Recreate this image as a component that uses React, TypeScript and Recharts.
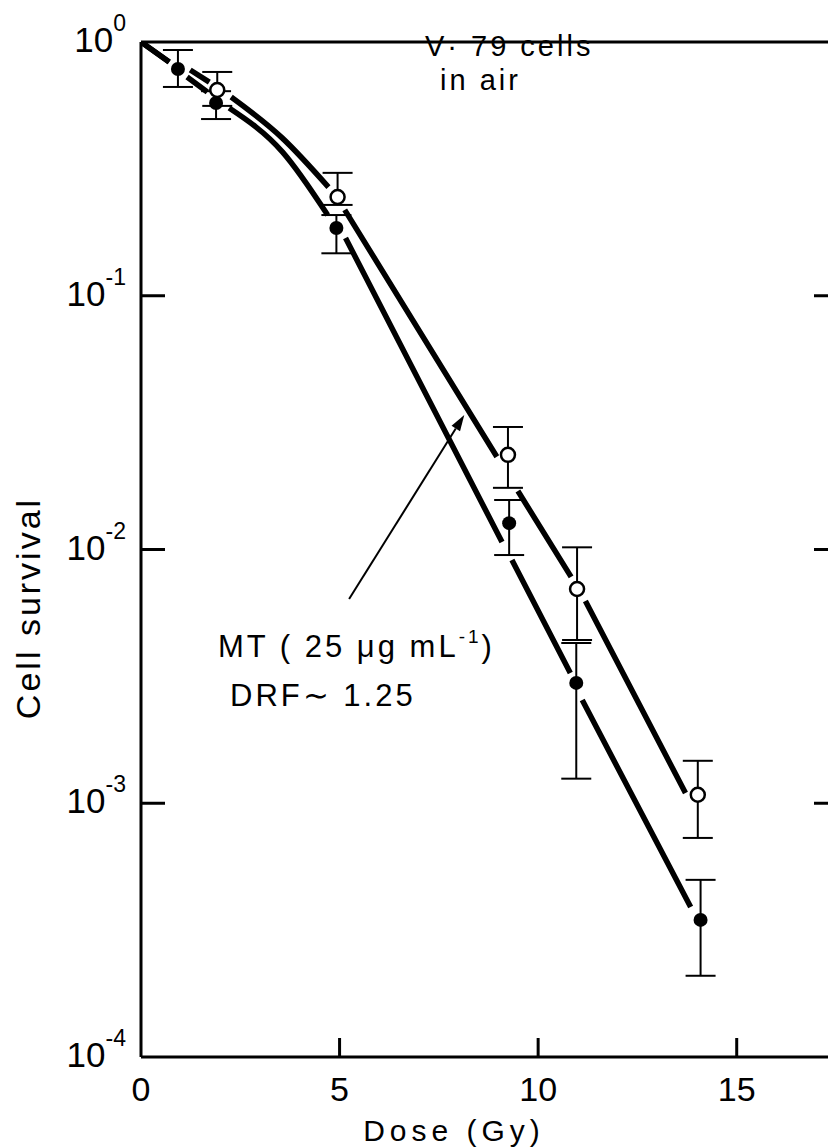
import React from 'react';
import {
  ComposedChart,
  Line,
  Scatter,
  XAxis,
  YAxis,
  ErrorBar,
  ReferenceLine,
} from 'recharts';

// survival points, control (filled) and MT 25 ug/mL (open)
const ctlDose = [0.93, 1.89, 4.92, 9.27, 10.96, 14.09];
const ctlSurv = [0.783, 0.575, 0.185, 0.0127, 0.00298, 0.000347];
const ctlLow = [0.665, 0.497, 0.147, 0.00951, 0.00125, 0.000209];
const ctlHigh = [0.93, 0.64, 0.208, 0.01567, 0.00428, 0.000499];

const mtDose = [1.92, 4.95, 9.24, 10.98, 14.02];
const mtSurv = [0.647, 0.245, 0.0236, 0.00699, 0.00108];
const mtLow = [0.56, 0.228, 0.0175, 0.0044, 0.00073];
const mtHigh = [0.762, 0.305, 0.0304, 0.0102, 0.00147];

// fitted curves, null = break in the drawn line
const mtCurveDose = [0, 0.71, 0.95, 1.24, 1.72, 1.95, 2.27, 3.56, 4.72, 4.95, 5.13, 8.96, 9.24, 9.49, 10.83, 10.98, 11.19, 13.71];
const mtCurveSurv = [1, 0.834, null, 0.776, 0.695, null, 0.607, 0.418, 0.268, null, 0.218, 0.0232, null, 0.017, 0.0078, null, 0.00627, 0.001097];
const ctlCurveDose = [0, 0.71, 0.93, 1.16, 1.67, 1.9, 2.22, 3.56, 4.7, 4.92, 5.15, 9.09, 9.27, 9.34, 10.81, 10.96, 11.11, 13.84];
const ctlCurveSurv = [1, 0.834, null, 0.728, 0.635, null, 0.549, 0.369, 0.208, null, 0.169, 0.0107, null, 0.00909, 0.00326, null, 0.00255, 0.00039];

// arrow from the MT label to its curve
const arrowDose = [5.24, 8.14];
const arrowSurv = [0.00638, 0.0339];

const xTicks = [0, 5, 10, 15];
const xTickLabels = ['0', '5', '10', '15'];
const yTicks = [1, 0.1, 0.01, 0.001, 0.0001];
const yTickExp = ['0', '-1', '-2', '-3', '-4'];

const FONT = '"Liberation Sans", Arial, sans-serif';

const pts = (d: number[], s: number[], lo: number[], hi: number[]) =>
  d.map((x, i) => ({ dose: x, s: s[i], err: [s[i] - lo[i], hi[i] - s[i]] }));
const curve = (d: number[], s: (number | null)[]) => d.map((x, i) => ({ dose: x, s: s[i] }));

const ctlPts = pts(ctlDose, ctlSurv, ctlLow, ctlHigh);
const mtPts = pts(mtDose, mtSurv, mtLow, mtHigh);
const mtCurve = curve(mtCurveDose, mtCurveSurv);
const ctlCurve = curve(ctlCurveDose, ctlCurveSurv);

const LeftTick = (props: any) => {
  const { x, y, index } = props;
  const inner = index > 0 && index < yTicks.length - 1;
  return (
    <g>
      {inner && <line x1={x} x2={x + 24} y1={y} y2={y} stroke="#000" strokeWidth={3} />}
      <text x={x - 15} y={y + 10} textAnchor="end" fontFamily={FONT} fill="#000">
        <tspan fontSize={35}>10</tspan>
        <tspan fontSize={23} dy={-21}>{yTickExp[index]}</tspan>
      </text>
    </g>
  );
};

const RightTick = (props: any) => {
  const { x, y } = props;
  return <line x1={x - 22} x2={x} y1={y} y2={y} stroke="#000" strokeWidth={3} />;
};

const BottomTick = (props: any) => {
  const { x, y, index } = props;
  return (
    <g>
      {index > 0 && <line x1={x} x2={x} y1={y} y2={y - 19} stroke="#000" strokeWidth={3} />}
      <text x={x} y={y + 44} textAnchor="middle" fontFamily={FONT} fontSize={34} fill="#000">
        {xTickLabels[index]}
      </text>
    </g>
  );
};

const TopTick = (props: any) => {
  const { x, y } = props;
  return <line x1={x} x2={x} y1={y} y2={y + 17} stroke="#000" strokeWidth={3} />;
};

const Arrow = (p: any) => {
  const { x1, y1, x2, y2 } = p;
  const a = Math.atan2(y2 - y1, x2 - x1);
  const L = 16;
  const W = 5;
  const bx = x2 - L * Math.cos(a);
  const by = y2 - L * Math.sin(a);
  const poly = `${x2},${y2} ${bx + W * Math.sin(a)},${by - W * Math.cos(a)} ${bx - W * Math.sin(a)},${by + W * Math.cos(a)}`;
  return (
    <g>
      <line x1={x1} y1={y1} x2={bx} y2={by} stroke="#000" strokeWidth={2} />
      <polygon points={poly} fill="#000" />
    </g>
  );
};

const Filled = (p: any) => <circle cx={p.cx} cy={p.cy} r={7} fill="#000" />;
const Open = (p: any) => <circle cx={p.cx} cy={p.cy} r={7} fill="#fff" stroke="#000" strokeWidth={2.5} />;

const axisLine = { stroke: '#000', strokeWidth: 3 };

const App: React.FC = () => {
  return (
    <div style={{ position: 'relative', width: 828, height: 1147, overflow: 'hidden', background: '#fff' }}>
      <style>{'body{margin:0}'}</style>
      <ComposedChart width={900} height={1147} margin={{ top: 40, right: 62, left: 61, bottom: 30 }}>
        <XAxis
          dataKey="dose"
          type="number"
          domain={[0, 17.5]}
          ticks={xTicks}
          allowDataOverflow
          height={60}
          axisLine={axisLine}
          tickLine={false}
          tickSize={0}
          tickMargin={0}
          tick={<BottomTick />}
        />
        <XAxis
          xAxisId="top"
          orientation="top"
          type="number"
          domain={[0, 17.5]}
          ticks={[5, 10, 15]}
          allowDataOverflow
          height={2}
          axisLine={axisLine}
          tickLine={false}
          tickSize={0}
          tickMargin={0}
          tick={<TopTick />}
        />
        <YAxis
          dataKey="s"
          type="number"
          scale="log"
          domain={[0.0001, 1]}
          ticks={yTicks}
          allowDataOverflow
          width={80}
          axisLine={axisLine}
          tickLine={false}
          tickSize={0}
          tickMargin={0}
          tick={<LeftTick />}
        />
        <YAxis
          yAxisId="right"
          orientation="right"
          type="number"
          scale="log"
          domain={[0.0001, 1]}
          ticks={[0.1, 0.01, 0.001]}
          allowDataOverflow
          width={2}
          axisLine={axisLine}
          tickLine={false}
          tickSize={0}
          tickMargin={0}
          tick={<RightTick />}
        />
        <Line
          data={mtCurve}
          dataKey="s"
          type="monotone"
          stroke="#000"
          strokeWidth={5.5}
          dot={false}
          activeDot={false}
          isAnimationActive={false}
        />
        <Line
          data={ctlCurve}
          dataKey="s"
          type="monotone"
          stroke="#000"
          strokeWidth={5.5}
          dot={false}
          activeDot={false}
          isAnimationActive={false}
        />
        <Scatter data={ctlPts} dataKey="s" shape={<Filled />} isAnimationActive={false}>
          <ErrorBar dataKey="err" direction="y" width={15} stroke="#000" strokeWidth={2} />
        </Scatter>
        <Scatter data={mtPts} dataKey="s" shape={<Open />} isAnimationActive={false}>
          <ErrorBar dataKey="err" direction="y" width={15} stroke="#000" strokeWidth={2} />
        </Scatter>
        <ReferenceLine
          segment={[
            { x: arrowDose[0], y: arrowSurv[0] },
            { x: arrowDose[1], y: arrowSurv[1] },
          ]}
          shape={<Arrow />}
        />
      </ComposedChart>
      <svg
        width={828}
        height={1147}
        style={{ position: 'absolute', left: 0, top: 0, pointerEvents: 'none' }}
        fontFamily={FONT}
        fill="#000"
      >
        <text x={425} y={56} fontSize={29} letterSpacing={3}>V· 79 cells</text>
        <text x={440} y={90} fontSize={29} letterSpacing={3}>in air</text>
        <text x={218} y={657} fontSize={31} letterSpacing={3}>
          MT ( 25 μg mL<tspan fontSize={19} dy={-14}>-1</tspan>
          <tspan dy={14}>)</tspan>
        </text>
        <text x={230} y={706} fontSize={31} letterSpacing={3}>DRF∼ 1.25</text>
        <text x={454} y={1141} fontSize={30} letterSpacing={5} textAnchor="middle">Dose (Gy)</text>
        <text
          x={0}
          y={0}
          fontSize={34}
          letterSpacing={3}
          textAnchor="middle"
          transform="translate(40 608) rotate(-90)"
        >
          Cell survival
        </text>
      </svg>
    </div>
  );
};

export default App;
